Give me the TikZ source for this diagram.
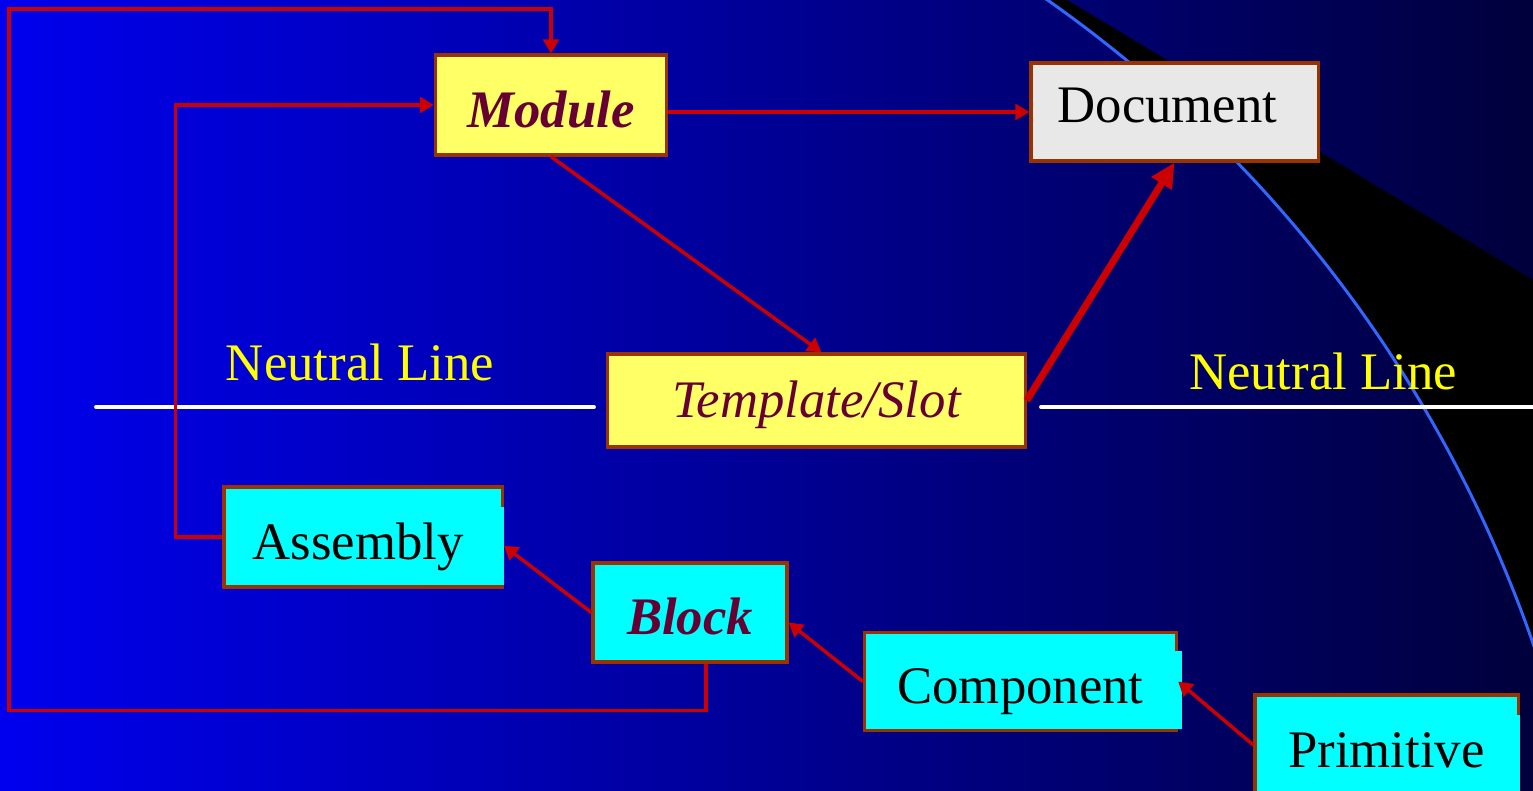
\documentclass[tikz,border=0pt]{standalone}
\usepackage{fontspec}
\setmainfont{Liberation Serif}
\usetikzlibrary{arrows.meta}

\definecolor{bgleft}{RGB}{0,0,238}
\definecolor{bgmid}{RGB}{0,0,175}
\definecolor{bgright}{RGB}{0,0,60}
\definecolor{arcblue}{RGB}{51,102,255}
\definecolor{linkred}{RGB}{204,0,0}
\definecolor{boxbrown}{RGB}{153,51,0}
\definecolor{inkmaroon}{RGB}{102,0,51}
\definecolor{frameyellow}{RGB}{255,255,102}
\definecolor{partcyan}{RGB}{0,255,255}
\definecolor{docgray}{RGB}{232,232,232}
\definecolor{neutralyellow}{RGB}{255,255,0}

\begin{document}
\begin{tikzpicture}[x=0.01cm, y=-0.01cm,
      every node/.append style={font=\fontsize{15}{18}\selectfont},
      link/.style={->, >={Triangle[length=4pt,width=4.5pt]}, draw=linkred, line width=1pt}]
    \tikzstyle{box} = [draw=boxbrown, line width=0.9pt, inner sep=0pt, minimum height=1cm,
      text height=12.7pt, text depth=0pt]
    \tikzstyle{frame} = [box, fill=frameyellow, text=inkmaroon]
    \tikzstyle{part} = [box, fill=partcyan, text=black]
    \tikzstyle{accent} = [font=\fontsize{15}{18}\selectfont\bfseries\itshape]
    \useasboundingbox (0,0) rectangle (1533,791);
    \clip (0,0) rectangle (1533,791);
    % background
    \shade[left color=bgleft, middle color=bgmid, right color=bgright] (0,0) rectangle (1533,791);
    \begin{scope}
      \clip (1067,0) -- (1533,280) -- (1533,791) -- (900,791) -- (900,0) -- cycle;
      \fill[black, even odd rule] (0,0) rectangle (1533,791) (294,1073) circle (1311);
    \end{scope}
    \draw[arcblue, line width=0.85pt] (294,1073) circle (1311);
    % neutral line
    \draw[white, line width=1.1pt, line cap=round] (96,407) -- (594,407);
    \draw[white, line width=1.1pt, line cap=round] (1041,407) -- (1540,407);
    \node (neutralleft) [text=neutralyellow] at (360,362) {Neutral Line};
    \node (neutralright) [text=neutralyellow] at (1323,371) {Neutral Line};
    % boxes
    \node (module) [frame, accent, minimum width=2.31cm] at (551,105) {Module};
    \node (document) [box, fill=docgray, minimum width=2.87cm, minimum height=0.98cm,
      text height=6.2pt] at (1174.5,112) {Document\kern0.14cm};
    \node (template) [frame, minimum width=4.17cm, minimum height=0.93cm, text height=9.9pt,
      font=\fontsize{15}{18}\selectfont\itshape] at (816.5,400.5) {Template/Slot};
    \node (assembly) [part, minimum width=2.78cm, minimum height=1cm] at (363,537) {Assembly\kern0.1cm};
    \node (block) [part, accent, text=inkmaroon, minimum width=1.94cm, minimum height=0.99cm] at (690,612.5) {Block};
    \node (component) [part, minimum width=3.12cm, minimum height=0.98cm] at (1020.5,681.5) {Component};
    \node (primitive) [part, minimum width=2.63cm] at (1386.5,745) {Primitive};
    \fill[partcyan] (499,507) rectangle (504,585);
    \fill[partcyan] (1173,651) rectangle (1182,729);
    \fill[partcyan] (1515,715) rectangle (1520,795);
    % links
    \coordinate (corner) at (9,9);
    \draw[link] (module.east |- document.west) -- (document.west);
    \draw[link] (module.south) -- ([xshift=0.05cm]template.north);
    \draw[link, line width=2pt, >={Triangle[length=7pt,width=6.5pt]}] (template.east) -- (document.south);
    \draw[link] (assembly.west) -- ++(-47,0) |- (module.west);
    \draw[link] ([xshift=0.16cm]block.south) -- ++(0,47) -| (corner) -| (module.north);
    \draw[link] (block.west) -- ([yshift=-0.085cm]assembly.east);
    \draw[link] (component.west) -- ([yshift=-0.1cm]block.east);
    \draw[link] (primitive.west) -- (component.east);
\end{tikzpicture}
\end{document}
